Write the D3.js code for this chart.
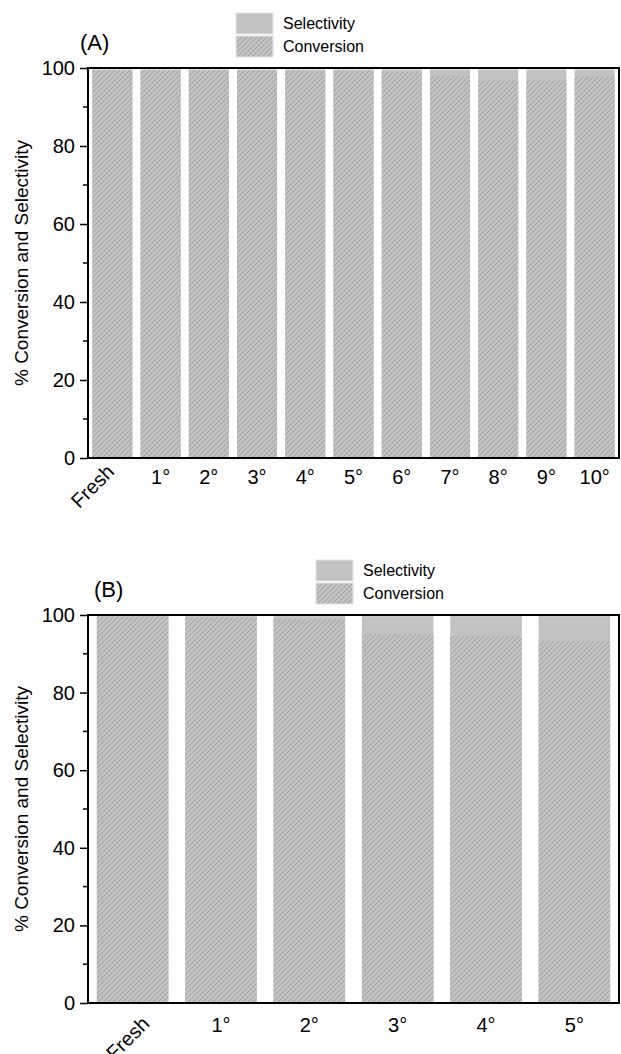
<!DOCTYPE html>
<html><head><meta charset="utf-8">
<script src="https://cdn.jsdelivr.net/npm/d3@7"></script>
<style>body{margin:0;background:#fff}svg{display:block;font-family:"Liberation Sans",Arial,sans-serif}</style>
</head><body>
<svg id="c" width="621" height="1054"></svg>
<script>
const categoriesA = ["Fresh","1°","2°","3°","4°","5°","6°","7°","8°","9°","10°"];
const selectivityA = [99.6,99.6,99.6,99.6,99.6,99.6,99.6,99.6,99.6,99.6,99.6];
const conversionA = [99.5,99.5,99.5,99.4,99.2,99.2,99.0,98.0,96.8,96.8,97.8];
const categoriesB = ["Fresh","1°","2°","3°","4°","5°"];
const selectivityB = [99.7,99.7,99.7,99.7,99.7,99.7];
const conversionB = [99.6,99.4,98.9,95.1,94.6,93.3];
const yTicks = [0,20,40,60,80,100];
const legendLabels = ["Selectivity","Conversion"];

const svg = d3.select("#c");
const defs = svg.append("defs");
const pat = defs.append("pattern").attr("id","hatch").attr("patternUnits","userSpaceOnUse")
  .attr("width",5).attr("height",5);
pat.append("rect").attr("width",5).attr("height",5).attr("fill","#c2c2c2");
pat.append("path").attr("d","M0,5 L5,0 M-1,1 L1,-1 M4,6 L6,4")
  .attr("stroke","#939393").attr("stroke-width",0.8).attr("fill","none");

function panel(cfg){
  const {cats, sel, conv, top, bottom, left, right, pin, pout, label, labelX, legX, legY, fx, fy, lblDy} = cfg;
  const g = svg.append("g");
  const x = d3.scaleBand().domain(cats).range([left,right]).paddingInner(pin).paddingOuter(pout);
  const y = d3.scaleLinear().domain([0,100]).range([bottom,top]);
  g.selectAll(".s").data(cats).join("rect")
    .attr("x",d=>x(d)).attr("width",x.bandwidth())
    .attr("y",(d,i)=>y(sel[i])).attr("height",(d,i)=>y(0)-y(sel[i]))
    .attr("fill","#c2c2c2");
  g.selectAll(".c").data(cats).join("rect")
    .attr("x",d=>x(d)).attr("width",x.bandwidth())
    .attr("y",(d,i)=>y(conv[i])).attr("height",(d,i)=>y(0)-y(conv[i]))
    .attr("fill","url(#hatch)");
  g.append("rect").attr("x",left).attr("y",top).attr("width",right-left).attr("height",bottom-top)
    .attr("fill","none").attr("stroke","#000").attr("stroke-width",2);
  const ya = g.append("g").attr("transform",`translate(${left},0)`)
    .call(d3.axisLeft(y).tickValues(yTicks).tickSize(8).tickPadding(5).tickFormat(d3.format("d")));
  ya.select(".domain").remove();
  ya.selectAll("line").attr("stroke-width",1.5);
  ya.selectAll("text").attr("font-size",20).attr("fill","#000").attr("font-family","Liberation Sans, Arial, sans-serif");
  const minor = d3.range(10,100,20);
  g.selectAll(".mt").data(minor).join("line")
    .attr("x1",left-5).attr("x2",left).attr("y1",d=>y(d)).attr("y2",d=>y(d))
    .attr("stroke","#000").attr("stroke-width",1.5);
  cats.forEach((c,i)=>{
    const cx = x(c)+x.bandwidth()/2;
    if(i===0){
      g.append("text").attr("transform",`translate(${cx+fx},${bottom+fy}) rotate(-45)`)
        .attr("text-anchor","end").attr("font-size",20).text(c);
    } else {
      g.append("text").attr("x",cx).attr("y",bottom+lblDy).attr("text-anchor","middle")
        .attr("font-size",20).text(c);
    }
  });
  g.append("text").attr("transform",`translate(28,${(top+bottom)/2}) rotate(-90)`)
    .attr("text-anchor","middle").attr("font-size",19).text("% Conversion and Selectivity");
  g.append("text").attr("x",labelX).attr("y",top-18).attr("font-size",22).text(label);
  const lg = g.append("g").attr("transform",`translate(${legX},${legY})`);
  ["#c2c2c2","url(#hatch)"].forEach((f,i)=>{
    lg.append("rect").attr("x",0).attr("y",i*23).attr("width",37).attr("height",21)
      .attr("fill",f).attr("stroke","#e6e6e6").attr("stroke-width",1);
    lg.append("text").attr("x",47).attr("y",i*23+16).attr("font-size",16).text(legendLabels[i]);
  });
}

panel({cats:categoriesA, sel:selectivityA, conv:conversionA, top:68, bottom:458, left:88, right:619,
  pin:0.17, pout:0.09, label:"(A)", labelX:80, legX:236, legY:13, fx:3, fy:15, lblDy:26});
panel({cats:categoriesB, sel:selectivityB, conv:conversionB, top:615, bottom:1003, left:88, right:619,
  pin:0.19, pout:0.1, label:"(B)", labelX:94, legX:316, legY:560, fx:18, fy:22, lblDy:29});
</script>
</body></html>
